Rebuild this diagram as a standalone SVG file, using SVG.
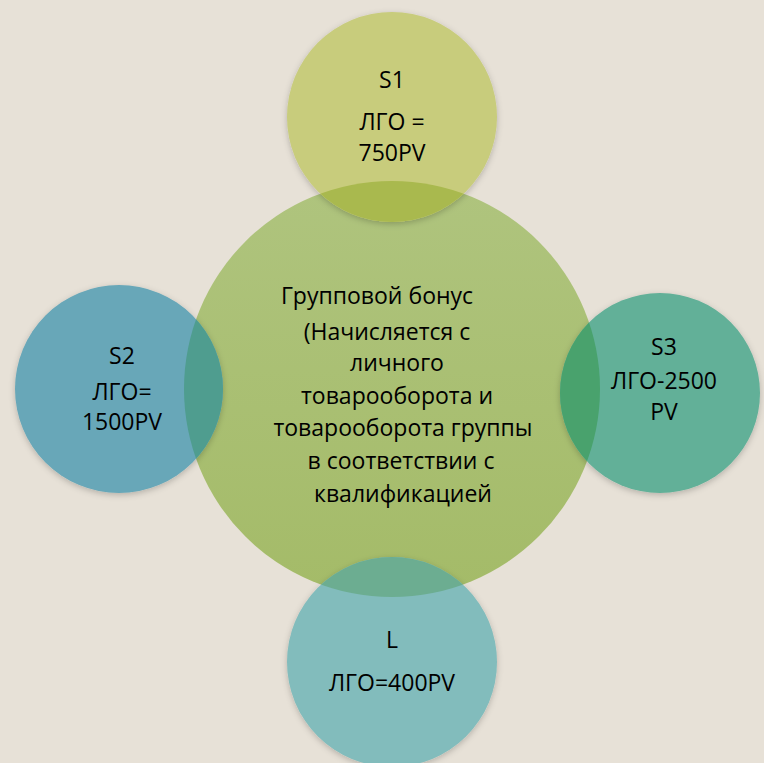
<svg xmlns="http://www.w3.org/2000/svg" width="764" height="763" viewBox="0 0 764 763">
  <defs>
    <linearGradient id="gCentral" x1="0" y1="0" x2="0" y2="1">
      <stop offset="0" stop-color="#afc47e"/>
      <stop offset="1" stop-color="#a4bb68"/>
    </linearGradient>
    <clipPath id="clipCentral">
      <circle cx="392" cy="389" r="208"/>
    </clipPath>
    <filter id="shadow" x="-20%" y="-20%" width="140%" height="140%">
      <feDropShadow dx="0" dy="2" stdDeviation="3" flood-color="#000" flood-opacity="0.22"/>
    </filter>
  </defs>
  <style>
    .lbl { font-family: "Open Sans", "Noto Sans", "DejaVu Sans", sans-serif; font-size: 23px; fill: #000; text-anchor: middle; }
  </style>
  <rect x="0" y="0" width="764" height="763" fill="#e7e1d7"/>

  <g id="central">
    <circle cx="392" cy="389" r="208" fill="url(#gCentral)"/>
  </g>

  <g id="s1">
    <circle cx="392" cy="117" r="105" fill="#c8cc7c" filter="url(#shadow)"/>
    <circle cx="392" cy="117" r="105" fill="#a9b94e" clip-path="url(#clipCentral)"/>
    <text class="lbl" x="392" y="88">S1</text>
    <text class="lbl" x="392" y="130">ЛГО =</text>
    <text class="lbl" x="392" y="161">750PV</text>
  </g>

  <g id="s2">
    <circle cx="119" cy="389" r="104" fill="#68a7b8" filter="url(#shadow)"/>
    <circle cx="119" cy="389" r="104" fill="#4f9d8f" clip-path="url(#clipCentral)"/>
    <text class="lbl" x="122" y="364">S2</text>
    <text class="lbl" x="122" y="400">ЛГО=</text>
    <text class="lbl" x="122" y="430">1500PV</text>
  </g>

  <g id="s3">
    <circle cx="660" cy="393" r="100" fill="#62b098" filter="url(#shadow)"/>
    <circle cx="660" cy="393" r="100" fill="#49a26d" clip-path="url(#clipCentral)"/>
    <text class="lbl" x="664" y="355">S3</text>
    <text class="lbl" x="664" y="389">ЛГО-2500</text>
    <text class="lbl" x="664" y="420">PV</text>
  </g>

  <g id="l">
    <circle cx="392" cy="662" r="105" fill="#82bcbc" filter="url(#shadow)"/>
    <circle cx="392" cy="662" r="105" fill="#6cad91" clip-path="url(#clipCentral)"/>
    <text class="lbl" x="392" y="648">L</text>
    <text class="lbl" x="392" y="691">ЛГО=400PV</text>
  </g>

  <g id="central-text">
    <text class="lbl" x="377" y="304">Групповой бонус</text>
    <text class="lbl" x="387" y="340">(Начисляется с</text>
    <text class="lbl" x="397" y="371">личного</text>
    <text class="lbl" x="397" y="404">товарооборота и</text>
    <text class="lbl" x="403" y="436">товарооборота группы</text>
    <text class="lbl" x="401" y="469">в соответствии с</text>
    <text class="lbl" x="403" y="502">квалификацией</text>
  </g>

  <g id="connectors"></g>
</svg>
